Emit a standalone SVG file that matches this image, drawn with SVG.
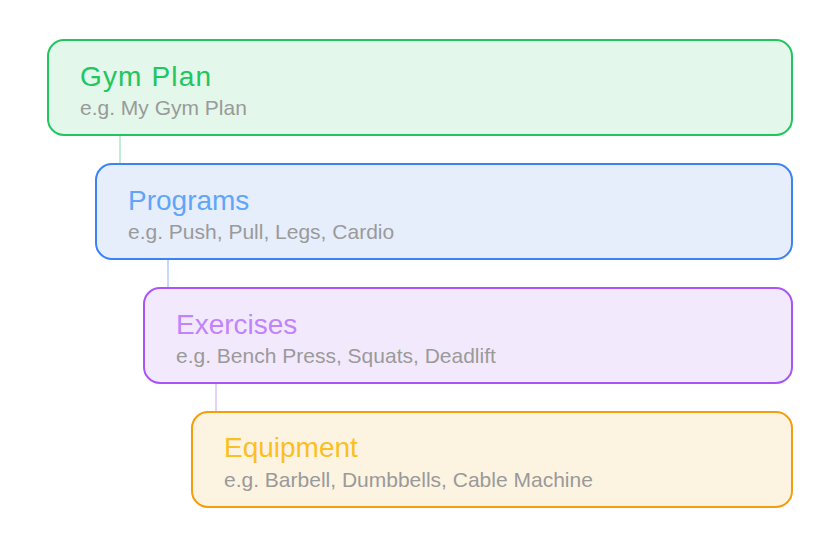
<svg xmlns="http://www.w3.org/2000/svg" width="840" height="560" viewBox="0 0 840 560">
<style>
.box{stroke-width:2}
.t{font-family:"Liberation Sans",Arial,sans-serif;font-size:28px}
.s{font-family:"Liberation Sans",Arial,sans-serif;font-size:21px;fill:#9a9a9a}
.c{stroke-width:1.5;fill:none}
</style>
<rect width="840" height="560" fill="#fff"/>
<g id="connectors">
<line class="c" x1="120" y1="135" x2="120" y2="164" stroke="#a7e8c0"/>
<line class="c" x1="168" y1="259" x2="168" y2="288" stroke="#b5cdf8"/>
<line class="c" x1="216" y1="383" x2="216" y2="412" stroke="#dcc0fa"/>
</g>
<g id="gymplan">
<rect class="box" x="48" y="40" width="744" height="95" rx="16" fill="#e3f7ea" stroke="#22c55e"/>
<text class="t" x="80" y="86" fill="#22c55e" textLength="131">Gym Plan</text>
<text class="s" x="80" y="115">e.g. My Gym Plan</text>
</g>
<g id="programs">
<rect class="box" x="96" y="164" width="696" height="95" rx="16" fill="#e6eefc" stroke="#3b82f6"/>
<text class="t" x="128" y="210" fill="#60a5fa">Programs</text>
<text class="s" x="128" y="239">e.g. Push, Pull, Legs, Cardio</text>
</g>
<g id="exercises">
<rect class="box" x="144" y="288" width="648" height="95" rx="16" fill="#f3e9fd" stroke="#a855f7"/>
<text class="t" x="176" y="334" fill="#c084fc">Exercises</text>
<text class="s" x="176" y="363">e.g. Bench Press, Squats, Deadlift</text>
</g>
<g id="equipment">
<rect class="box" x="192" y="412" width="600" height="95" rx="16" fill="#fdf3e1" stroke="#f59e0b"/>
<text class="t" x="224" y="457" fill="#fbbf24">Equipment</text>
<text class="s" x="224" y="487">e.g. Barbell, Dumbbells, Cable Machine</text>
</g>
</svg>
